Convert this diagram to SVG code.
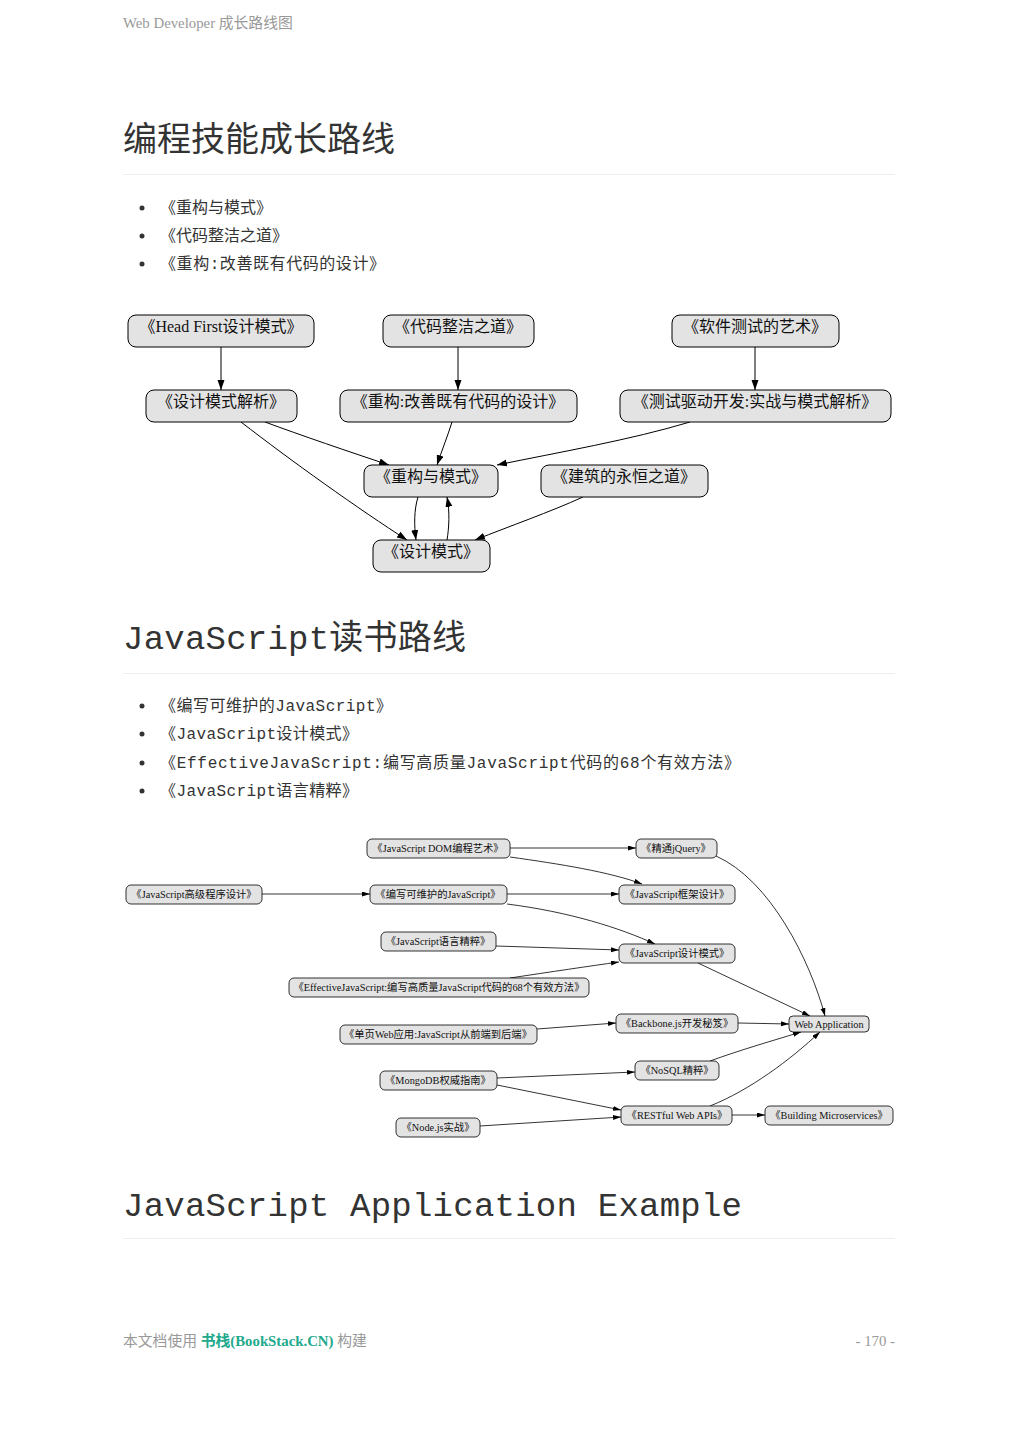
<svg xmlns="http://www.w3.org/2000/svg" width="1019" height="1440" viewBox="0 0 1019 1440">
<style>
.hdr{font-family:"Liberation Serif","Noto Sans CJK SC",serif;font-size:14.8px;fill:#999}
.h1{font-family:"Noto Sans CJK SC",sans-serif;font-size:34px;fill:#333}
.h1m{font-family:"Liberation Mono","Noto Sans CJK SC",monospace;font-size:34px;fill:#333}
.li{font-family:"Noto Sans CJK SC",sans-serif;font-size:16px;fill:#333}
.lim{font-family:"Liberation Mono","Noto Sans CJK SC",monospace;font-size:16px;fill:#333}
.rule{stroke:#eee;stroke-width:1}
.n1 rect{fill:#e3e3e3;stroke:#000;stroke-width:1}
.n1 text{font-family:"Liberation Serif","Noto Sans CJK SC",serif;font-size:16px;fill:#111;text-anchor:middle}
.n2 rect{fill:#e3e3e3;stroke:#000;stroke-width:0.8}
.n2 text{font-family:"Liberation Serif","Noto Sans CJK SC",serif;font-size:10.3px;fill:#111;text-anchor:middle}
.e1{fill:none;stroke:#000;stroke-width:1;marker-end:url(#a1)}
.e2{fill:none;stroke:#000;stroke-width:0.8;marker-end:url(#a2)}
</style>
<defs>
<marker id="a1" markerUnits="userSpaceOnUse" markerWidth="11" markerHeight="8" refX="10" refY="3.5" orient="auto"><path d="M0,0 L10,3.5 L0,7 z" fill="#000"/></marker>
<marker id="a2" markerUnits="userSpaceOnUse" markerWidth="9" markerHeight="6" refX="8" refY="2.5" orient="auto"><path d="M0,0 L8,2.5 L0,5 z" fill="#000"/></marker>
</defs>
<rect width="1019" height="1440" fill="#fff"/>
<text class="hdr" x="123" y="28">Web Developer 成长路线图</text>

<text class="h1" x="123" y="151">编程技能成长路线</text>
<line class="rule" x1="123" y1="174.5" x2="895" y2="174.5"/>
<g>
<circle cx="142" cy="208" r="2.5" fill="#333"/><text class="li" x="160" y="213">《重构与模式》</text>
<circle cx="142" cy="236" r="2.5" fill="#333"/><text class="li" x="160" y="241">《代码整洁之道》</text>
<circle cx="142" cy="264" r="2.5" fill="#333"/><text class="lim" x="160" y="269" textLength="225" lengthAdjust="spacing">《重构:改善既有代码的设计》</text>
</g>

<g id="d1-connectors">
<path class="e1" d="M221,347 L221,390"/>
<path class="e1" d="M458,347 L458,390"/>
<path class="e1" d="M755,347 L755,390"/>
<path class="e1" d="M265,422 C300,435 350,452 389,465"/>
<path class="e1" d="M241,422 C290,460 360,510 407,540"/>
<path class="e1" d="M452,422 C448,435 442,450 437,465"/>
<path class="e1" d="M690,422 C630,440 560,452 497,465"/>
<path class="e1" d="M418,497 C414,510 414,525 416,540"/>
<path class="e1" d="M447,540 C449,528 450,512 447,497"/>
<path class="e1" d="M583,497 C550,512 510,526 475,540"/>
</g>
<g id="d1-headfirst" class="n1"><rect x="128" y="315" width="186" height="32" rx="8"/><text x="221" y="332">《Head First设计模式》</text></g>
<g id="d1-clean" class="n1"><rect x="383" y="315" width="151" height="32" rx="8"/><text x="458" y="332">《代码整洁之道》</text></g>
<g id="d1-testart" class="n1"><rect x="672" y="315" width="167" height="32" rx="8"/><text x="755" y="332">《软件测试的艺术》</text></g>
<g id="d1-dpexplained" class="n1"><rect x="146" y="390" width="151" height="32" rx="8"/><text x="221" y="407">《设计模式解析》</text></g>
<g id="d1-refactoring" class="n1"><rect x="340" y="390" width="237" height="32" rx="8"/><text x="458" y="407">《重构:改善既有代码的设计》</text></g>
<g id="d1-tdd" class="n1"><rect x="620" y="390" width="271" height="32" rx="8"/><text x="755" y="407">《测试驱动开发:实战与模式解析》</text></g>
<g id="d1-reftopatterns" class="n1"><rect x="364" y="465" width="134" height="32" rx="8"/><text x="431" y="482">《重构与模式》</text></g>
<g id="d1-timeless" class="n1"><rect x="541" y="465" width="167" height="32" rx="8"/><text x="624" y="482">《建筑的永恒之道》</text></g>
<g id="d1-dp" class="n1"><rect x="373" y="540" width="117" height="32" rx="8"/><text x="431" y="557">《设计模式》</text></g>

<text class="h1m" x="123" y="649" textLength="343" lengthAdjust="spacing">JavaScript读书路线</text>
<line class="rule" x1="123" y1="673.5" x2="895" y2="673.5"/>
<g>
<circle cx="142" cy="706" r="2.5" fill="#333"/><text class="lim" x="160" y="711" textLength="232" lengthAdjust="spacing">《编写可维护的JavaScript》</text>
<circle cx="142" cy="734" r="2.5" fill="#333"/><text class="lim" x="160" y="739" textLength="198" lengthAdjust="spacing">《JavaScript设计模式》</text>
<circle cx="142" cy="763" r="2.5" fill="#333"/><text class="lim" x="160" y="768" textLength="580" lengthAdjust="spacing">《EffectiveJavaScript:编写高质量JavaScript代码的68个有效方法》</text>
<circle cx="142" cy="791" r="2.5" fill="#333"/><text class="lim" x="160" y="796" textLength="198" lengthAdjust="spacing">《JavaScript语言精粹》</text>
</g>

<g id="d2-connectors">
<path class="e2" d="M510,848 L636,848"/>
<path class="e2" d="M510,857 C560,864 610,872 642,884"/>
<path class="e2" d="M262,894 L370,894"/>
<path class="e2" d="M507,894 L619,894"/>
<path class="e2" d="M507,904 C570,912 620,928 655,944"/>
<path class="e2" d="M496,946 L619,950"/>
<path class="e2" d="M510,978 C550,972 590,966 619,962"/>
<path class="e2" d="M698,963 L810,1016"/>
<path class="e2" d="M716,856 C770,880 810,960 825,1016"/>
<path class="e2" d="M537,1029 L616,1023"/>
<path class="e2" d="M738,1023 L789,1024"/>
<path class="e2" d="M497,1078 L635,1072"/>
<path class="e2" d="M497,1085 L621,1110"/>
<path class="e2" d="M480,1126 L621,1117"/>
<path class="e2" d="M710,1061 C740,1050 775,1040 801,1032"/>
<path class="e2" d="M710,1106 C750,1090 790,1060 820,1032"/>
<path class="e2" d="M732,1115 L765,1115"/>
</g>
<g id="d2-dom" class="n2"><rect x="367" y="839" width="143" height="19" rx="5"/><text x="438" y="852">《JavaScript DOM编程艺术》</text></g>
<g id="d2-jquery" class="n2"><rect x="636" y="839" width="81" height="19" rx="5"/><text x="676" y="852">《精通jQuery》</text></g>
<g id="d2-pro" class="n2"><rect x="126" y="885" width="136" height="19" rx="5"/><text x="194" y="898">《JavaScript高级程序设计》</text></g>
<g id="d2-maintain" class="n2"><rect x="370" y="885" width="137" height="19" rx="5"/><text x="438" y="898">《编写可维护的JavaScript》</text></g>
<g id="d2-framework" class="n2"><rect x="619" y="885" width="116" height="19" rx="5"/><text x="677" y="898">《JavaScript框架设计》</text></g>
<g id="d2-goodparts" class="n2"><rect x="381" y="932" width="115" height="19" rx="5"/><text x="438" y="945">《JavaScript语言精粹》</text></g>
<g id="d2-patterns" class="n2"><rect x="619" y="944" width="116" height="19" rx="5"/><text x="677" y="957">《JavaScript设计模式》</text></g>
<g id="d2-effective" class="n2"><rect x="289" y="978" width="300" height="19" rx="5"/><text x="439" y="991">《EffectiveJavaScript:编写高质量JavaScript代码的68个有效方法》</text></g>
<g id="d2-spa" class="n2"><rect x="340" y="1025" width="197" height="19" rx="5"/><text x="438" y="1038">《单页Web应用:JavaScript从前端到后端》</text></g>
<g id="d2-backbone" class="n2"><rect x="616" y="1014" width="122" height="19" rx="5"/><text x="677" y="1027">《Backbone.js开发秘笈》</text></g>
<g id="d2-webapp" class="n2"><rect x="789" y="1016" width="80" height="16" rx="4"/><text x="829" y="1028">Web Application</text></g>
<g id="d2-mongo" class="n2"><rect x="380" y="1071" width="117" height="19" rx="5"/><text x="438" y="1084">《MongoDB权威指南》</text></g>
<g id="d2-nosql" class="n2"><rect x="635" y="1061" width="84" height="19" rx="5"/><text x="677" y="1074">《NoSQL精粹》</text></g>
<g id="d2-node" class="n2"><rect x="396" y="1118" width="84" height="19" rx="5"/><text x="438" y="1131">《Node.js实战》</text></g>
<g id="d2-rest" class="n2"><rect x="621" y="1106" width="111" height="19" rx="5"/><text x="677" y="1119">《RESTful Web APIs》</text></g>
<g id="d2-micro" class="n2"><rect x="765" y="1106" width="128" height="19" rx="5"/><text x="829" y="1119">《Building Microservices》</text></g>

<text class="h1m" x="123" y="1216" textLength="619" lengthAdjust="spacing">JavaScript Application Example</text>
<line class="rule" x1="123" y1="1238.5" x2="895" y2="1238.5"/>

<text class="hdr" x="123" y="1346">本文档使用 <tspan fill="#21a98c" font-weight="bold">书栈(BookStack.CN)</tspan> 构建</text>
<text class="hdr" x="895" y="1346" text-anchor="end">- 170 -</text>
</svg>
